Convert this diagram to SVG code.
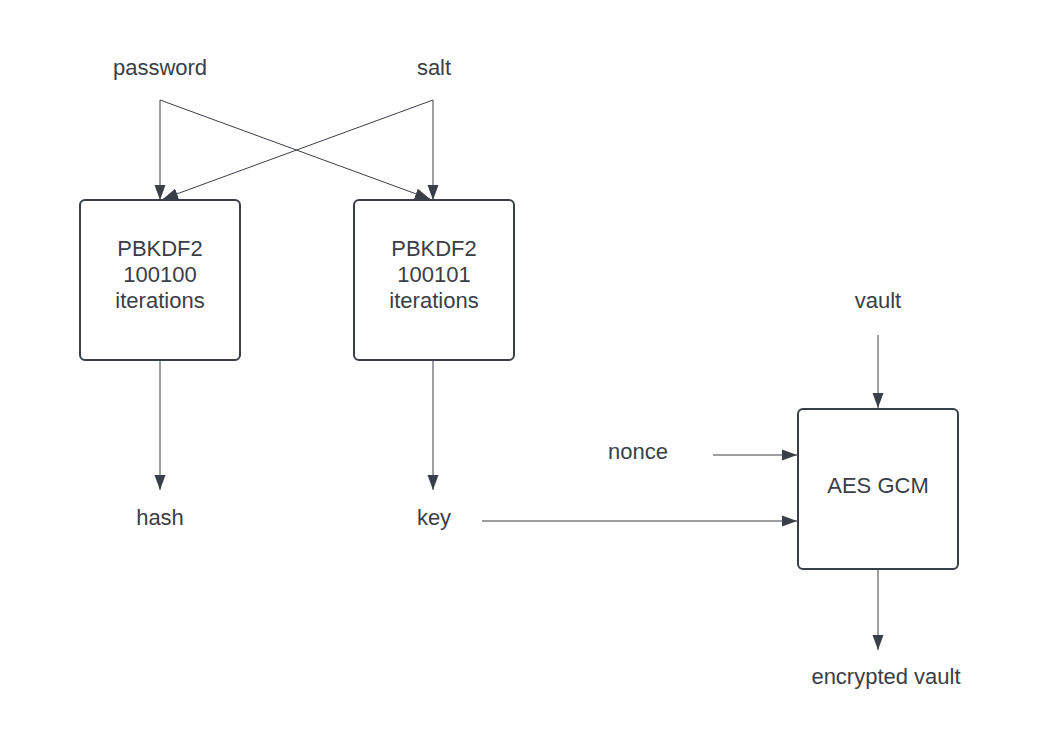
<svg xmlns="http://www.w3.org/2000/svg" width="1047" height="750" viewBox="0 0 1047 750">
<defs>
<marker id="arr" viewBox="0 0 15 12" markerWidth="15" markerHeight="12" refX="15" refY="6" orient="auto" markerUnits="userSpaceOnUse">
<path d="M0,0.5 L15,6 L0,11.5 Z" fill="#3a3e46"/>
</marker>
<style>
.box{fill:#ffffff;stroke:#3a3e46;stroke-width:2}
.lbl{font-family:"Liberation Sans",Arial,sans-serif;font-size:22px;fill:#3a3e46;text-anchor:middle}
.con{stroke:#3a3e46;stroke-width:1;fill:none;marker-end:url(#arr)}
</style>
</defs>
<rect width="1047" height="750" fill="#ffffff"/>
<g id="connectors">
<path class="con" d="M160,100 L160,200"/>
<path class="con" d="M433,100 L433,200"/>
<path class="con" d="M160,100 L430,199"/>
<path class="con" d="M433,100 L163,199"/>
<path class="con" d="M160,360 L160,490"/>
<path class="con" d="M433,360 L433,490"/>
<path class="con" d="M482,521 L797,521"/>
<path class="con" d="M713,455 L797,455"/>
<path class="con" d="M878,335 L878,408"/>
<path class="con" d="M878,570 L878,650"/>
</g>
<g id="password"><text class="lbl" x="160" y="75">password</text></g>
<g id="salt"><text class="lbl" x="434" y="75">salt</text></g>
<g id="pbkdf2-hash">
<rect class="box" x="80" y="200" width="160" height="160" rx="5"/>
<text class="lbl" x="160" y="256">PBKDF2</text>
<text class="lbl" x="160" y="282">100100</text>
<text class="lbl" x="160" y="308">iterations</text>
</g>
<g id="pbkdf2-key">
<rect class="box" x="354" y="200" width="160" height="160" rx="5"/>
<text class="lbl" x="434" y="256">PBKDF2</text>
<text class="lbl" x="434" y="282">100101</text>
<text class="lbl" x="434" y="308">iterations</text>
</g>
<g id="hash"><text class="lbl" x="160" y="525">hash</text></g>
<g id="key"><text class="lbl" x="434" y="525">key</text></g>
<g id="nonce"><text class="lbl" x="638" y="459">nonce</text></g>
<g id="vault"><text class="lbl" x="878" y="308">vault</text></g>
<g id="aes-gcm">
<rect class="box" x="798" y="409" width="160" height="160" rx="5"/>
<text class="lbl" x="878" y="493">AES GCM</text>
</g>
<g id="encrypted-vault"><text class="lbl" x="886" y="684">encrypted vault</text></g>
</svg>
